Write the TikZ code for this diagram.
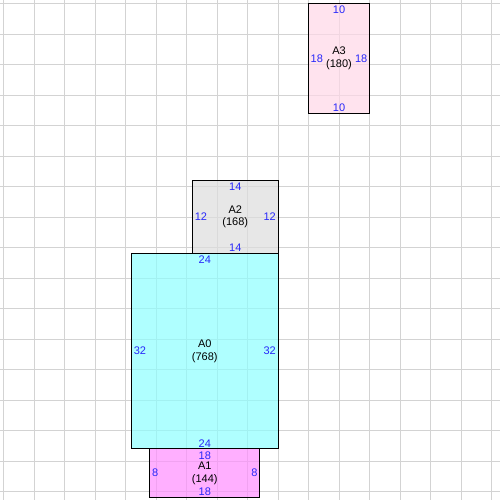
\documentclass[tikz,border=0pt]{standalone}
\usepackage{fontspec}
\setmainfont{Liberation Sans}
\definecolor{gridc}{RGB}{211,211,211}
\definecolor{dimc}{RGB}{40,40,250}
\definecolor{cyanf}{RGB}{142,255,255}
\definecolor{pinkf}{RGB}{255,216,231}
\definecolor{grayf}{RGB}{222,222,222}
\definecolor{magf}{RGB}{255,142,255}
\begin{document}
\begin{tikzpicture}[x=6.1pt,y=-6.1pt,
  font=\fontsize{11}{12.5}\selectfont,
  room/.style={draw=black, line width=1pt, fill opacity=0.7, draw opacity=1, inner sep=0pt, outer sep=0pt, anchor=north west},
  dimlbl/.style={text=dimc, inner sep=0pt},
  namelbl/.style={align=center, inner sep=0pt, text=black}]
\useasboundingbox (-0.574,-0.574) rectangle (81.393,81.393);
\fill[white] (-0.574,-0.574) rectangle (81.393,81.393);
\foreach \i in {0,5,...,80} {
  \draw[gridc, line width=1pt] (\i,-1) -- (\i,82);
  \draw[gridc, line width=1pt] (-1,\i) -- (82,\i);
}
% rooms
\node[room, fill=pinkf, minimum width=61pt, minimum height=109.8pt] (A3) at (50,0) {};
\node[room, fill=grayf, minimum width=85.4pt, minimum height=73.2pt] (A2) at (31,29) {};
\node[room, fill=cyanf, minimum width=146.4pt, minimum height=195.2pt] (A0) at (21,41) {};
\node[room, fill=magf, minimum width=109.8pt, minimum height=48.8pt] (A1) at (24,73) {};
% A3 labels
\node[namelbl] (A3n) at (A3.center) {A3\\(180)};
\node[dimlbl, anchor=north] (A3t) at ([yshift=-2.5pt]A3.north) {10};
\node[dimlbl, anchor=south] (A3b) at ([yshift=1.5pt]A3.south) {10};
\node[dimlbl, anchor=west] (A3l) at ([xshift=2pt]A3.west) {18};
\node[dimlbl, anchor=east] (A3r) at ([xshift=-2pt]A3.east) {18};
% A2 labels
\node[namelbl] (A2n) at (A2.center) {A2\\(168)};
\node[dimlbl, anchor=north] (A2t) at ([yshift=-2.5pt]A2.north) {14};
\node[dimlbl, anchor=south] (A2b) at ([yshift=1.5pt]A2.south) {14};
\node[dimlbl, anchor=west] (A2l) at ([xshift=2pt]A2.west) {12};
\node[dimlbl, anchor=east] (A2r) at ([xshift=-2pt]A2.east) {12};
% A0 labels
\node[namelbl] (A0n) at (A0.center) {A0\\(768)};
\node[dimlbl, anchor=north] (A0t) at ([yshift=-2.5pt]A0.north) {24};
\node[dimlbl, anchor=south] (A0b) at ([yshift=1.5pt]A0.south) {24};
\node[dimlbl, anchor=west] (A0l) at ([xshift=2pt]A0.west) {32};
\node[dimlbl, anchor=east] (A0r) at ([xshift=-2pt]A0.east) {32};
% A1 labels
\node[namelbl] (A1n) at (A1.center) {A1\\(144)};
\node[dimlbl, anchor=north] (A1t) at ([yshift=-2.5pt]A1.north) {18};
\node[dimlbl, anchor=south] (A1b) at ([yshift=1.5pt]A1.south) {18};
\node[dimlbl, anchor=west] (A1l) at ([xshift=2pt]A1.west) {8};
\node[dimlbl, anchor=east] (A1r) at ([xshift=-2pt]A1.east) {8};
\end{tikzpicture}
\end{document}
